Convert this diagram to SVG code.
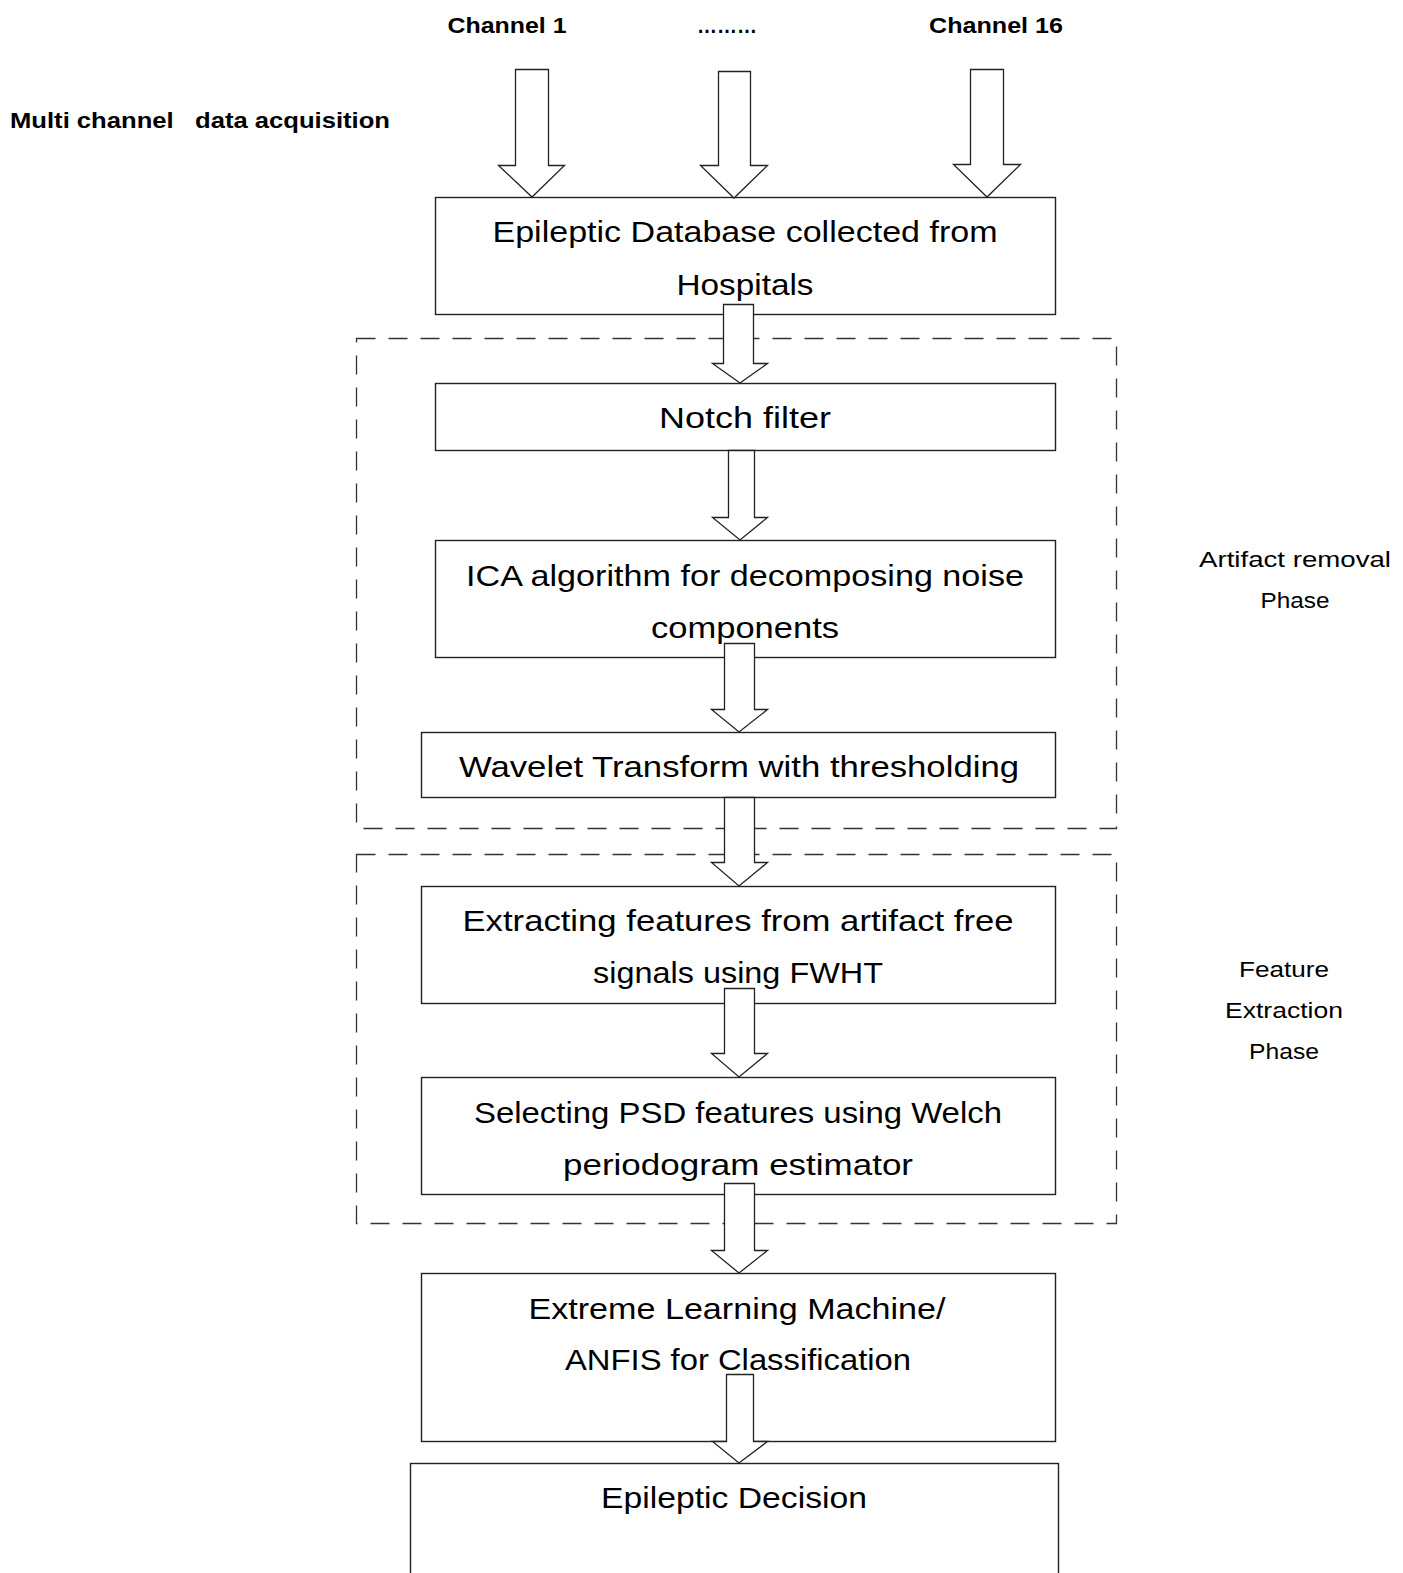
<svg xmlns="http://www.w3.org/2000/svg" width="1403" height="1573" viewBox="0 0 1403 1573">
<style>
.box{fill:#fff;stroke:#222;stroke-width:1.4}
.frame{fill:none;stroke:#333;stroke-width:1.3;stroke-dasharray:19 13}
.arr{fill:#fff;stroke:#222;stroke-width:1.3;stroke-linejoin:miter}
.t{font-family:"Liberation Sans",Arial,sans-serif;font-size:30px;fill:#000;text-anchor:middle}
.s{font-family:"Liberation Sans",Arial,sans-serif;font-size:22px;fill:#000;text-anchor:middle}
.b{font-family:"Liberation Sans",Arial,sans-serif;font-size:22px;font-weight:bold;fill:#000}
</style>
<rect width="1403" height="1573" fill="#fff"/>
<g id="labels">
<text class="b" x="507" y="33" text-anchor="middle" textLength="119" lengthAdjust="spacingAndGlyphs">Channel 1</text>
<text class="b" x="727" y="33" text-anchor="middle" textLength="60" lengthAdjust="spacingAndGlyphs">………</text>
<text class="b" x="996" y="33" text-anchor="middle" textLength="134" lengthAdjust="spacingAndGlyphs">Channel 16</text>
<text class="b" x="10" y="128" xml:space="preserve" textLength="380" lengthAdjust="spacingAndGlyphs">Multi channel   data acquisition</text>
<text class="s" x="1295" y="567" textLength="192" lengthAdjust="spacingAndGlyphs">Artifact removal</text>
<text class="s" x="1295" y="608" textLength="69" lengthAdjust="spacingAndGlyphs">Phase</text>
<text class="s" x="1284" y="977" textLength="90" lengthAdjust="spacingAndGlyphs">Feature</text>
<text class="s" x="1284" y="1018" textLength="118" lengthAdjust="spacingAndGlyphs">Extraction</text>
<text class="s" x="1284" y="1059" textLength="70" lengthAdjust="spacingAndGlyphs">Phase</text>
</g>
<g id="phases">
<rect id="artifact-phase" class="frame" x="356.5" y="338.5" width="760" height="490"/>
<rect id="feature-phase" class="frame" x="356.5" y="854.5" width="760" height="369"/>
</g>
<g id="n1"><rect class="box" x="435.5" y="197.5" width="620" height="117"/>
<text class="t" x="745" y="242" textLength="505" lengthAdjust="spacingAndGlyphs">Epileptic Database collected from</text>
<text class="t" x="745" y="295" textLength="137" lengthAdjust="spacingAndGlyphs">Hospitals</text></g>
<g id="n2"><rect class="box" x="435.5" y="383.5" width="620" height="67"/>
<text class="t" x="745" y="428" textLength="172" lengthAdjust="spacingAndGlyphs">Notch filter</text></g>
<g id="n3"><rect class="box" x="435.5" y="540.5" width="620" height="117"/>
<text class="t" x="745" y="586" textLength="558" lengthAdjust="spacingAndGlyphs">ICA algorithm for decomposing noise</text>
<text class="t" x="745" y="638" textLength="188" lengthAdjust="spacingAndGlyphs">components</text></g>
<g id="n4"><rect class="box" x="421.5" y="732.5" width="634" height="65"/>
<text class="t" x="739" y="777" textLength="560" lengthAdjust="spacingAndGlyphs">Wavelet Transform with thresholding</text></g>
<g id="n5"><rect class="box" x="421.5" y="886.5" width="634" height="117"/>
<text class="t" x="738" y="931" textLength="551" lengthAdjust="spacingAndGlyphs">Extracting features from artifact free</text>
<text class="t" x="738" y="983" textLength="290" lengthAdjust="spacingAndGlyphs">signals using FWHT</text></g>
<g id="n6"><rect class="box" x="421.5" y="1077.5" width="634" height="117"/>
<text class="t" x="738" y="1123" textLength="528" lengthAdjust="spacingAndGlyphs">Selecting PSD features using Welch</text>
<text class="t" x="738" y="1175" textLength="350" lengthAdjust="spacingAndGlyphs">periodogram estimator</text></g>
<g id="n7"><rect class="box" x="421.5" y="1273.5" width="634" height="168"/>
<text class="t" x="737" y="1319" textLength="417" lengthAdjust="spacingAndGlyphs">Extreme Learning Machine/</text>
<text class="t" x="738" y="1370" textLength="346" lengthAdjust="spacingAndGlyphs">ANFIS for Classification</text></g>
<g id="n8"><rect class="box" x="410.5" y="1463.5" width="648" height="130"/>
<text class="t" x="734" y="1508" textLength="266" lengthAdjust="spacingAndGlyphs">Epileptic Decision</text></g>
<g id="connectors">
<polygon class="arr" points="515.5,69.5 548.5,69.5 548.5,165.5 564.5,165.5 532,197 498.5,165.5 515.5,165.5"/>
<polygon class="arr" points="718.5,71.5 750.5,71.5 750.5,165.5 767.5,165.5 734,198 700.5,165.5 718.5,165.5"/>
<polygon class="arr" points="970.5,69.5 1003.5,69.5 1003.5,164.5 1020.5,164.5 987,197 953.5,164.5 970.5,164.5"/>
<polygon class="arr" points="723.5,304.5 753.5,304.5 753.5,363.5 767.5,363.5 740,383 712.5,363.5 723.5,363.5"/>
<polygon class="arr" points="728.5,450.5 754.5,450.5 754.5,517.5 767.5,517.5 740,540 712.5,517.5 728.5,517.5"/>
<polygon class="arr" points="724.5,643.5 754.5,643.5 754.5,709.5 767.5,709.5 739,732 711.5,709.5 724.5,709.5"/>
<polygon class="arr" points="724.5,797.5 754.5,797.5 754.5,862.5 767.5,862.5 739,886 711.5,862.5 724.5,862.5"/>
<polygon class="arr" points="724.5,988.5 754.5,988.5 754.5,1053.5 767.5,1053.5 739,1077 711.5,1053.5 724.5,1053.5"/>
<polygon class="arr" points="724.5,1183.5 754.5,1183.5 754.5,1250.5 767.5,1250.5 739,1273 711.5,1250.5 724.5,1250.5"/>
<polygon class="arr" points="726.5,1374.5 753.5,1374.5 753.5,1441.5 767.5,1441.5 739,1463 712.5,1441.5 726.5,1441.5"/>
</g>
</svg>
